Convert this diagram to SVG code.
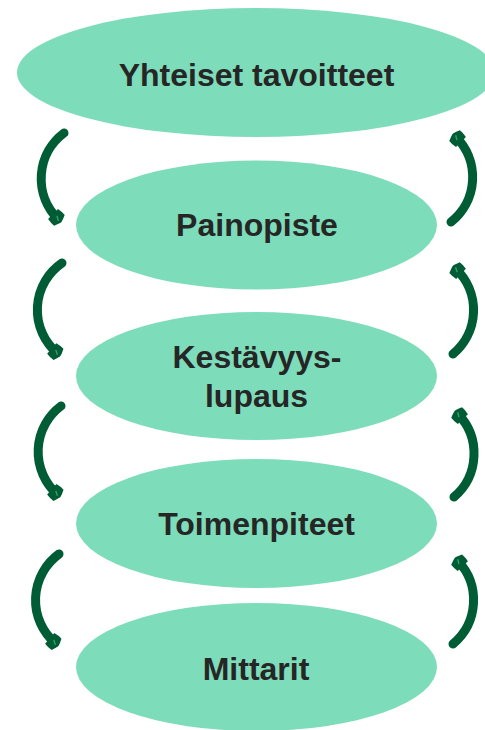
<svg xmlns="http://www.w3.org/2000/svg" width="485" height="730" viewBox="0 0 485 730">
<style>
.node ellipse { fill: #7ddcb9; }
.node text { font-family: "Liberation Sans", Arial, sans-serif; font-weight: bold; font-size: 32px; fill: #262626; text-anchor: middle; }
.arc { fill: none; stroke: #005c35; stroke-width: 9; stroke-linecap: round; marker-end: url(#head); }
</style>
<defs>
<marker id="head" markerUnits="userSpaceOnUse" markerWidth="24" markerHeight="24" refX="0" refY="0" viewBox="-12 -12 24 24" orient="auto" overflow="visible">
<path d="M-7,-7 Q-2,-8 2,-7.5 Q6,0 2,7.5 Q-2,8 -7,7 Z" fill="#005c35"/>
<path d="M-3,-1.5 L1.5,1" stroke="#2fa872" stroke-width="1.3"/>
</marker>
</defs>
<rect width="485" height="730" fill="#ffffff"/>
<g id="n-yhteiset" class="node">
<ellipse cx="256" cy="72.5" rx="239" ry="64.5"/>
<text x="256.5" y="86">Yhteiset tavoitteet</text>
</g>
<g id="n-painopiste" class="node">
<ellipse cx="256.5" cy="225" rx="180.5" ry="64.5"/>
<text x="257" y="236">Painopiste</text>
</g>
<g id="n-kestavyys" class="node">
<ellipse cx="256.5" cy="376" rx="180.5" ry="64"/>
<text x="257" y="368">Kestävyys-</text>
<text x="256.5" y="407">lupaus</text>
</g>
<g id="n-toimenpiteet" class="node">
<ellipse cx="256.5" cy="523.5" rx="180.5" ry="64.5"/>
<text x="256.5" y="535">Toimenpiteet</text>
</g>
<g id="n-mittarit" class="node">
<ellipse cx="256.5" cy="667" rx="180.5" ry="64"/>
<text x="256" y="680">Mittarit</text>
</g>
<g id="connectors">
<path class="arc" d="M64,133 A57,57 0 0 0 58,219"/>
<path class="arc" d="M62,263 A57,57 0 0 0 57,353"/>
<path class="arc" d="M61,406 A57,57 0 0 0 57,494"/>
<path class="arc" d="M59,554 A57,57 0 0 0 55,643"/>
<path class="arc" d="M451,222 A57,57 0 0 0 456,137"/>
<path class="arc" d="M453,354 A57,57 0 0 0 456,269"/>
<path class="arc" d="M454,497 A57,57 0 0 0 458,414"/>
<path class="arc" d="M453,644 A57,57 0 0 0 458,561"/>
</g>
</svg>
